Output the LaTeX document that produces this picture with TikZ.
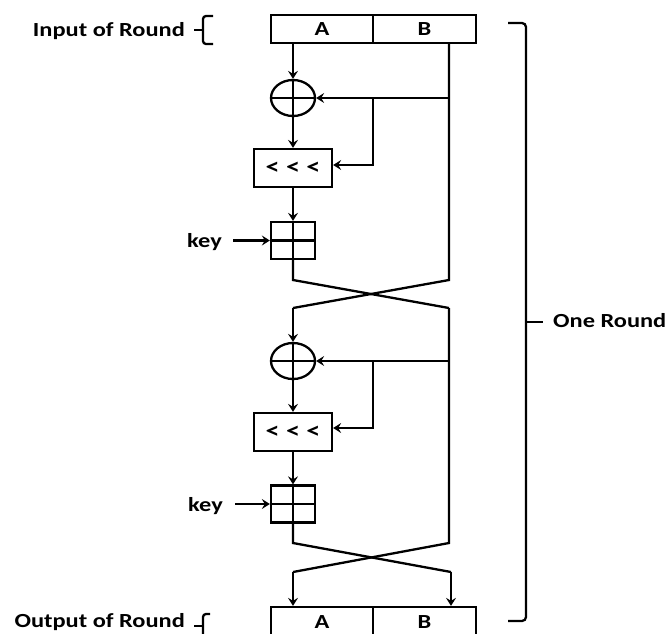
\documentclass[tikz,border=0pt]{standalone}
\usepackage{fontspec}
\newfontfamily\labfont{Carlito}[FakeStretch=1.22]
\usetikzlibrary{arrows.meta,shapes.geometric}
\begin{document}
\begin{tikzpicture}[x=1pt,y=-1pt,
  every node/.style={font=\labfont\bfseries\fontsize{20}{24}\selectfont},
  line/.style={line width=2.3pt},
  arr/.style={line width=2.3pt,-{Stealth[length=8pt,width=10pt,inset=3pt]}},
  blk/.style={draw,line width=2.3pt,inner sep=0pt,minimum height=28pt},
  rotbox/.style={blk,minimum width=78pt,minimum height=38pt,font=\labfont\bfseries\fontsize{23}{27}\selectfont},
  ring/.style={draw,ellipse,line width=2.3pt,minimum width=44pt,minimum height=36pt,inner sep=0pt},
  lbl/.style={inner sep=0pt}]
\useasboundingbox (0,0) rectangle (671,633);
\clip (0,0) rectangle (671,633);

% ---------- input and output registers ----------
\node[blk,minimum width=102pt] (A1) at (322,29) {A};
\node[blk,minimum width=103pt] (B1) at (424.5,29) {B};
\node[blk,minimum width=102pt,minimum height=30pt] (A2) at (322,622) {A};
\node[blk,minimum width=103pt,minimum height=30pt] (B2) at (424.5,622) {B};

% ---------- round part 1 ----------
\node[ring] (x1) at (293,98) {};
\node[rotbox] (r1) at (293,168) {< < <};
\node[blk,minimum width=44pt,minimum height=37pt] (k1) at (293,240.5) {};
\node[lbl,anchor=base east] (kl1) at (222,247) {key};

% ---------- round part 2 ----------
\node[ring] (x2) at (293,361) {};
\node[rotbox] (r2) at (293,432) {< < <};
\node[blk,minimum width=44pt,minimum height=37pt] (k2) at (293,504) {};
\node[lbl,anchor=base east] (kl2) at (223,511) {key};

% ---------- labels ----------
\node[lbl,anchor=base east] (inl) at (185,36.5) {Input of Round};
\node[lbl,anchor=base east] (outl) at (185,627.5) {Output of Round};
\node[lbl,anchor=base west] (one) at (553,327) {One Round};

% ---------- junction coordinates ----------
\coordinate (b1) at (449,43);
\coordinate (j1) at (449,98);
\coordinate (t1) at (373,98);
\coordinate (t1b) at (373,165);
\coordinate (f1) at (293,280);
\coordinate (e1) at (449,280);
\coordinate (g1) at (293,308);
\coordinate (h1) at (449,308);
\coordinate (j2) at (449,361);
\coordinate (t2) at (373,361);
\coordinate (t2b) at (373,428);
\coordinate (f2) at (293,543);
\coordinate (e2) at (449,543);
\coordinate (g2) at (293,572);
\coordinate (h2) at (451,572);

% ---------- symbol inner lines ----------
\foreach \n in {x1,x2,k1,k2}{
  \draw[line] (\n.north) -- (\n.south);
  \draw[line] (\n.west) -- (\n.east);
}

% ---------- round 1 connectors ----------
\draw[arr] (x1.north |- A1.south) -- (x1.north);
\draw[arr] (x1.south) -- (r1.north);
\draw[arr] (r1.south) -- (k1.north);
\draw[arr] (j1) -- (x1.east);
\draw[arr] (t1) -- (t1b) -- (r1.east |- t1b);
\draw[arr] ([xshift=11pt]k1.west -| kl1.east) -- (k1.west);
\draw[line] (b1) -- (e1) -- (g1);
\draw[line] (k1.south) -- (f1) -- (h1);

% ---------- round 2 connectors ----------
\draw[arr] (g1) -- (x2.north);
\draw[arr] (x2.south) -- (r2.north);
\draw[arr] (r2.south) -- (k2.north);
\draw[arr] (j2) -- (x2.east);
\draw[arr] (t2) -- (t2b) -- (r2.east |- t2b);
\draw[arr] ([xshift=12pt]k2.west -| kl2.east) -- (k2.west);
\draw[line] (h1) -- (e2) -- (g2);
\draw[line] (k2.south) -- (f2) -- (h2);
\draw[arr] (g2) -- (g2 |- A2.north);
\draw[arr] (h2) -- (h2 |- B2.north);

% ---------- braces ----------
\draw[line,rounded corners=3pt] (213,16) -- (203,16) -- (203,44) -- (213,44);
\draw[line] (203,30) -- (194,30);
\draw[line,rounded corners=3pt] (210,614) -- (203,614) -- (203,640);
\draw[line] (203,626) -- (194,626);
\draw[line,rounded corners=4pt] (508,23) -- (526,23) -- (526,621) -- (508,621);
\draw[line] (526,322) -- (543,322);
\end{tikzpicture}
\end{document}
